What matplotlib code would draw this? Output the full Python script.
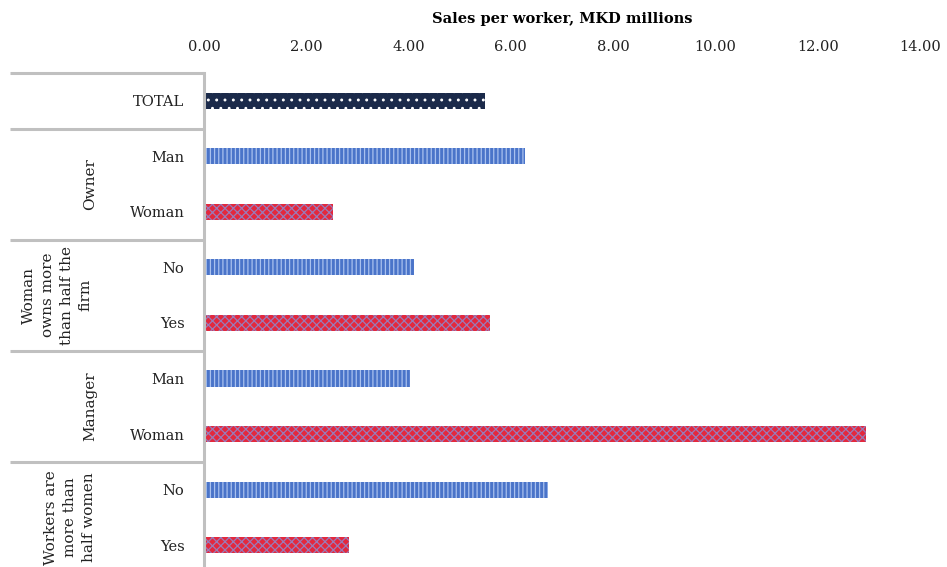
import numpy as np
import matplotlib.pyplot as plt
from matplotlib.transforms import blended_transform_factory

plt.rcParams['font.family'] = ['DejaVu Serif']
plt.rcParams['hatch.linewidth'] = 0.9

# categories, top to bottom
labels = ['TOTAL', 'Man', 'Woman', 'No', 'Yes', 'Man', 'Woman', 'No', 'Yes']
values = [5.50, 6.27, 2.53, 4.10, 5.60, 4.03, 12.95, 6.72, 2.83]
kinds = ['total', 'blue', 'red', 'blue', 'red', 'blue', 'red', 'blue', 'red']
groups = ['Owner', 'Woman\nowns more\nthan half the\nfirm', 'Manager', 'Workers are\nmore than\nhalf women']
xticks = [0, 2, 4, 6, 8, 10, 12, 14]

styles = {
    'total': dict(color='#1b2a4a', edgecolor='white', hatch='..'),
    'blue': dict(color='#4a74c9', edgecolor='#a9c1ee', hatch='||||'),
    'red': dict(color='#e3283d', edgecolor='#9a7ab8', hatch='xxxx'),
}

fig = plt.figure(figsize=(9.47, 5.67), dpi=100)
ax = fig.add_axes([0.2154, -0.0106, 0.756, 0.8819])

y = np.arange(len(labels))
for yi, v, k in zip(y, values, kinds):
    st = styles[k]
    ax.barh(yi, v, height=0.29, color=st['color'], edgecolor=st['edgecolor'],
            hatch=st['hatch'], linewidth=0)

ax.set_xlim(0, 14)
ax.set_ylim(8.5, -0.5)
ax.xaxis.tick_top()
ax.xaxis.set_label_position('top')
ax.set_xticks(xticks)
ax.set_xticklabels([f'{t:.2f}' for t in xticks], fontsize=10.5, color='#222222')
ax.set_xlabel('Sales per worker, MKD millions', fontsize=10.5, fontweight='bold', labelpad=12)
ax.set_yticks(y)
ax.set_yticklabels(labels, fontsize=10.5, color='#222222')
ax.tick_params(axis='both', length=0)
ax.tick_params(axis='y', pad=14)
ax.tick_params(axis='x', pad=14)
for s in ['top', 'right', 'bottom']:
    ax.spines[s].set_visible(False)
ax.spines['left'].set_color('#c0c0c0')
ax.spines['left'].set_linewidth(2.2)

# category boxes on the left
tr = blended_transform_factory(ax.transAxes, ax.transData)
for b in [-0.5, 0.5, 2.5, 4.5, 6.5]:
    ax.plot([-0.271, 0], [b, b], transform=tr, color='#c0c0c0', lw=2.2, clip_on=False,
            solid_capstyle='butt')

group_pos = [(-0.159, 1.5), (-0.205, 3.5), (-0.159, 5.5), (-0.187, 7.5)]
for (gx, gy), g in zip(group_pos, groups):
    ax.text(gx, gy, g, transform=tr, rotation=90, ha='center', va='center',
            fontsize=11, color='#222222', linespacing=1.45, multialignment='center')

fig.savefig('out.png', dpi=100)
